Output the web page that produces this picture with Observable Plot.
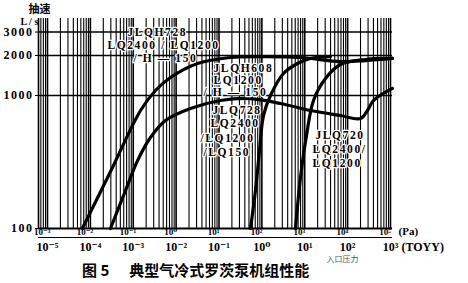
<!DOCTYPE html>
<html><head><meta charset="utf-8">
<script src="https://cdn.jsdelivr.net/npm/d3@7"></script>
<script src="https://cdn.jsdelivr.net/npm/@observablehq/plot@0.6"></script>
<style>
html,body{margin:0;padding:0;background:#fff}
body{width:468px;height:283px;overflow:hidden;position:relative}
#chart svg{display:block}
.lbl text{letter-spacing:1.6px}
.yax text{letter-spacing:1.5px}
#title{position:absolute;left:82px;top:262px;height:18px;line-height:16px;font-family:"Noto Sans CJK SC",sans-serif;font-weight:700;font-size:15px;color:#000;white-space:nowrap}
#title span.t{margin-left:20px}
</style></head>
<body><div id="chart"></div><div id="title">图 5<span class="t">典型气冷式罗茨泵机组性能</span></div>
<script>
// ---- data (pressure in Torr, pumping speed in L/s) ----
const seriesNames = ["JLQH728", "JLQH608", "JLQ728", "JLQ720"];
const pA = [6.5e-5, 2.95e-4, 1.48e-3, 3.3e-3, 7.4e-3, 0.0316, 0.185, 0.93, 8.0, 68, 261, 1110];
const sA = [100, 268, 771, 1090, 1365, 1740, 1930, 1960, 1930, 1800, 1830, 1900];
const pB = [2.94e-4, 6.6e-4, 1.26e-3, 2.52e-3, 5.65e-3, 0.0216, 0.108, 0.543, 2.72, 13.6, 68, 200, 290, 401, 1110];
const sB = [100, 193, 324, 483, 649, 798, 917, 948, 871, 771, 707, 671, 771, 917, 1130];
const pC = [0.543, 0.71, 0.88, 1.09, 1.59, 3.19, 6.77, 13.6, 39.8];
const sC = [100, 193, 385, 707, 1000, 1463, 1740, 1898, 1960];
const pD = [6.08, 7.96, 11.0, 16.0, 30.5, 68, 261, 1110];
const sD = [100, 242, 500, 917, 1343, 1710, 1866, 1900];

const yTicks = [100, 1000, 2000, 3000];
const yGrid = [1000, 2000, 3000];
const torrExp = [-5, -4, -3, -2, -1, 0, 1, 2, 3];
const torrLabels = ["10⁻⁵", "10⁻⁴", "10⁻³", "10⁻²", "10⁻¹", "10⁰", "10¹", "10²", "10³"];
const paExp = [-3, -2, -1, 0, 1, 2, 3, 4, 5];
const paLabels = ["10⁻³", "10⁻²", "10⁻¹", "10⁰", "10¹", "10²", "10³", "10⁴", "10⁵"];
const PA_PER_TORR = 133.322;

const labelText = ["JLQH728", "LQ2400 / LQ1200", "/ H — 150",
  "JLQH608", "LQ1200", "/ H — 150",
  "JLQ728", "LQ2400", "/LQ1200", "/LQ150",
  "JLQ720", "LQ2400/", "LQ1200"];
const labelP = [7.3e-4, 2.5e-4, 1.01e-3, 0.0745, 0.0745, 0.0435, 0.0705, 0.0634, 0.0371, 0.0435, 17.8, 15.2, 15.2];
const labelS = [2980, 2377, 1897, 1596, 1297, 1054, 771, 616, 475, 373, 500, 393, 308];

// ---- build tables ----
const pSets = [pA, pB, pC, pD], sSets = [sA, sB, sC, sD];
const rows = [];
pSets.forEach((ps, k) => ps.forEach((p, i) => rows.push({series: seriesNames[k], p, s: sSets[k][i]})));
const labels = labelText.map((t, i) => ({t, p: labelP[i], s: labelS[i]}));
const torrTicks = torrExp.map((e, i) => ({v: Math.pow(10, e), t: torrLabels[i]}));
const paTicks = paExp.map((e, i) => ({v: Math.pow(10, e) / PA_PER_TORR, t: paLabels[i]}));

const xDomain = [Math.pow(10, -5.21), Math.pow(10, 3.047)];
const yDomain = [100, Math.pow(10, 3.579)];
const minorX = [], decadeX = [];
for (let e = -6; e <= 3; e++) for (let m = 1; m <= 9; m++) {
  const v = m * Math.pow(10, e);
  if (v >= xDomain[0] && v <= xDomain[1] * 1.001) (m === 1 ? decadeX : minorX).push(v);
}

const serif = "'Liberation Serif','DejaVu Serif',serif";
const chart = Plot.plot({
  width: 468, height: 264,
  marginLeft: 38, marginRight: 76, marginTop: 18, marginBottom: 36,
  x: {type: "log", domain: xDomain, axis: null, label: null},
  y: {type: "log", domain: yDomain, label: null},
  style: {fontFamily: serif, fontWeight: "bold", fontSize: "12px", color: "#000", background: "#fff"},
  marks: [
    Plot.ruleX(minorX, {stroke: "#000", strokeWidth: 1.1}),
    Plot.ruleX(decadeX, {stroke: "#000", strokeWidth: 1.6}),
    Plot.ruleX([xDomain[0]], {stroke: "#000", strokeWidth: 1.6}),
    Plot.ruleY(yGrid, {stroke: "#000", strokeWidth: 1.5}),
    Plot.ruleY([yDomain[0]], {stroke: "#000", strokeWidth: 1.8}),
    Plot.ruleY([yDomain[0]], {stroke: "#000", strokeWidth: 1, dy: 9, x1: xDomain[0], x2: xDomain[1]}),
    Plot.line(rows, {x: "p", y: "s", z: "series", stroke: "#000", strokeWidth: 3.2, curve: "catmull-rom"}),
    Plot.text(labels, {x: "p", y: "s", text: "t", textAnchor: "start", fontSize: 11.5, fontWeight: "bold", fill: "#000", stroke: "#fff", strokeWidth: 2.5, className: "lbl"}),
    Plot.axisY(yTicks, {anchor: "left", label: null, tickSize: 3, tickPadding: 2, tickFormat: d => String(d), fontSize: 12, className: "yax"}),
    Plot.text(paTicks, {x: "v", text: "t", frameAnchor: "bottom", lineAnchor: "middle", dy: 4, fontSize: 9}),
    Plot.text(torrTicks, {x: "v", text: "t", frameAnchor: "bottom", lineAnchor: "middle", dy: 19, fontSize: 12}),
    Plot.text(["抽速"], {frameAnchor: "top-left", dx: -10, dy: -13, fontSize: 11, fontFamily: "'Noto Sans CJK SC',sans-serif", fontWeight: "bold"}),
    Plot.text(["L / s"], {frameAnchor: "top-left", dx: -18, dy: -1, fontSize: 10}),
    Plot.text(["(Pa)"], {frameAnchor: "bottom-right", textAnchor: "start", lineAnchor: "middle", dx: 6, dy: 3, fontSize: 11}),
    Plot.text(["(TOYY)"], {frameAnchor: "bottom-right", textAnchor: "start", lineAnchor: "middle", dx: 9, dy: 19, fontSize: 12}),
    Plot.text(["入口压力"], {frameAnchor: "bottom-right", lineAnchor: "middle", dx: -34, dy: 31, fontSize: 8, fontWeight: "normal", fill: "#555", fontFamily: "'Noto Sans CJK SC',sans-serif"})
  ]
});
document.getElementById("chart").appendChild(chart);
</script>
</body></html>
